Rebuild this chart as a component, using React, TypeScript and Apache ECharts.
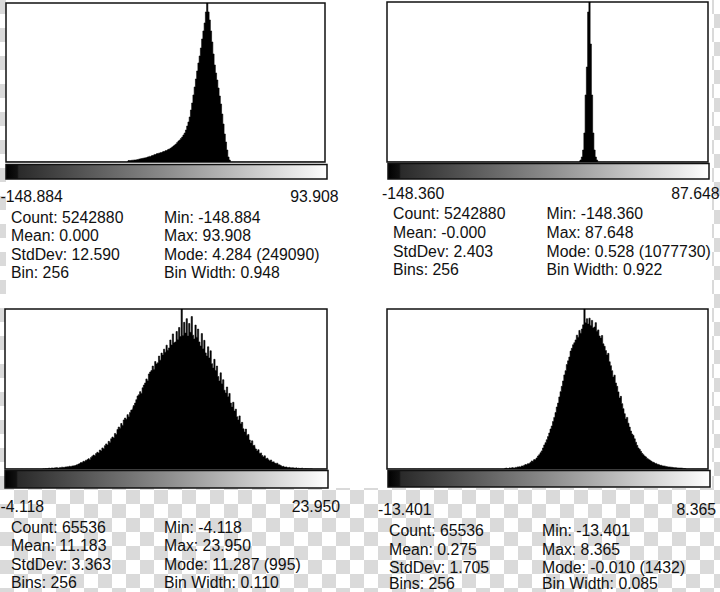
import React, { useEffect, useRef } from "react";
import * as echarts from "echarts";

const BIN_COUNT = 256;

// ---------- Panel 1 (top-left) ----------
const P1_MIN = -148.884;
const P1_BIN_WIDTH = 0.948;
const P1_MODE_COUNT = 249090;
const P1_FIRST_BIN = 98;
const P1_COUNTS = [
  2350, 2350, 2660, 2820, 3130, 3290, 3600, 4070, 4540, 5010,
  5480, 5800, 6270, 6580, 7050, 7680, 8150, 8770, 9400, 10190,
  10970, 11750, 12540, 13160, 13790, 14260, 14890, 15670, 16450, 17240,
  18020, 18800, 19900, 20840, 21940, 23500, 25070, 26640, 28210, 30560,
  32910, 34470, 36820, 39180, 42310, 45440, 50140, 56410, 62680, 70520,
  81480, 92450, 104990, 117530, 130060, 142600, 155130, 166100, 178640, 192740,
  205280, 217810, 235050, 249090, 235050, 222510, 205280, 188040, 169240, 152000,
  139460, 128490, 115960, 103420, 90890, 75220, 59550, 43880, 31340, 18800,
  7840, 3130,
];
const P1_RANGE_LABELS = ["-148.884", "93.908"];
const P1_STATS_LEFT = ["Count: 5242880", "Mean: 0.000", "StdDev: 12.590", "Bin: 256"];
const P1_STATS_RIGHT = ["Min: -148.884", "Max: 93.908", "Mode: 4.284 (249090)", "Bin Width: 0.948"];

// ---------- Panel 2 (top-right) ----------
const P2_MIN = -148.36;
const P2_BIN_WIDTH = 0.922;
const P2_MODE_COUNT = 1077730;
const P2_FIRST_BIN = 154;
const P2_COUNTS = [
  13470, 33680, 80830, 195350, 451310, 639920, 1010400, 1077730, 794850, 451310,
  195350, 80830, 33680, 13470,
];
const P2_RANGE_LABELS = ["-148.360", "87.648"];
const P2_STATS_LEFT = ["Count: 5242880", "Mean: -0.000", "StdDev: 2.403", "Bins: 256"];
const P2_STATS_RIGHT = ["Min: -148.360", "Max: 87.648", "Mode: 0.528 (1077730)", "Bin Width: 0.922"];

// ---------- Panel 3 (bottom-left) ----------
const P3_MIN = -4.118;
const P3_BIN_WIDTH = 0.11;
const P3_MODE_COUNT = 995;
const P3_FIRST_BIN = 30;
const P3_COUNTS = [
  2, 1, 3, 2, 4, 5, 3, 6, 4, 7, 7, 9, 6, 10, 8, 11, 9, 13, 12, 14,
  14, 17, 13, 19, 20, 22, 26, 24, 31, 35, 40, 37, 48, 44, 55, 59, 64, 57, 72, 80,
  87, 82, 96, 104, 99, 118, 112, 131, 126, 145, 156, 149, 172, 165, 188,
  199, 193, 221, 214, 246, 261, 254, 283, 270, 305, 317, 309, 338, 325, 352,
  367, 371, 395, 410, 431, 454, 462, 481, 470, 505, 522, 535, 560, 549, 591,
  603, 612, 640, 618, 668, 653, 660, 702, 676, 721, 709, 745, 726, 770, 738,
  753, 802, 771, 840, 785, 790, 855, 806, 880, 824, 995, 830, 912, 845, 935,
  827, 905, 850, 948, 832, 809, 895, 820, 870, 790, 765, 842, 748, 800, 722,
  703, 760, 690, 735, 655, 628, 682, 612, 640, 575, 547, 598, 530, 555, 490,
  473, 510, 450, 470, 410, 386, 415, 360, 372, 325, 305, 330, 282, 290, 250,
  230, 248, 210, 215, 180, 162, 175, 146, 150, 124, 112, 120, 98, 100, 84,
  75, 82, 66, 68, 57, 50, 56, 44, 45, 37, 33, 36, 27, 25, 20,
  15, 18, 12, 13, 10, 9, 11, 7, 8, 6, 6, 7, 4, 5, 3, 4, 5, 2, 3, 2,
  2, 1, 2, 1,
];
const P3_RANGE_LABELS = ["-4.118", "23.950"];
const P3_STATS_LEFT = ["Count: 65536", "Mean: 11.183", "StdDev: 3.363", "Bins: 256"];
const P3_STATS_RIGHT = ["Min: -4.118", "Max: 23.950", "Mode: 11.287 (995)", "Bin Width: 0.110"];

// ---------- Panel 4 (bottom-right) ----------
const P4_MIN = -13.401;
const P4_BIN_WIDTH = 0.085;
const P4_MODE_COUNT = 1432;
const P4_FIRST_BIN = 94;
const P4_COUNTS = [
  6, 9, 5, 11, 8, 12, 13, 10, 16, 14, 19, 22, 18, 27, 25, 33,
  40, 36, 48, 45, 58, 72, 66, 84, 80, 99, 116, 128, 145, 162, 188,
  215, 236, 262, 290, 322, 358, 385, 425, 462, 505, 555, 590, 645, 692, 740,
  788, 842, 880, 935, 968, 1002, 1055, 1080, 1112, 1130, 1155, 1198, 1180, 1240, 1215,
  1253, 1290, 1432, 1310, 1345, 1298, 1350, 1285, 1330, 1262, 1271, 1310, 1232, 1245, 1190,
  1172, 1195, 1120, 1098, 1060, 1020, 1035, 960, 925, 880, 823, 840, 770, 740, 690,
  635, 650, 585, 540, 495, 448, 462, 410, 375, 340, 313, 300, 270, 240, 212,
  188, 176, 158, 140, 128, 116, 108, 95, 88, 80, 72, 66, 60, 54, 50,
  45, 41, 36, 33, 30, 27, 25, 22, 21, 19, 18, 16, 15, 13, 12,
  12, 10, 9, 8, 8, 7, 5, 4, 3,
];
const P4_RANGE_LABELS = ["-13.401", "8.365"];
const P4_STATS_LEFT = ["Count: 65536", "Mean: 0.275", "StdDev: 1.705", "Bins: 256"];
const P4_STATS_RIGHT = ["Min: -13.401", "Max: 8.365", "Mode: -0.010 (1432)", "Bin Width: 0.085"];

// ---------- Assemble ----------
const PANELS = [
  { min: P1_MIN, bw: P1_BIN_WIDTH, mode: P1_MODE_COUNT, first: P1_FIRST_BIN, counts: P1_COUNTS, range: P1_RANGE_LABELS, left: P1_STATS_LEFT, right: P1_STATS_RIGHT },
  { min: P2_MIN, bw: P2_BIN_WIDTH, mode: P2_MODE_COUNT, first: P2_FIRST_BIN, counts: P2_COUNTS, range: P2_RANGE_LABELS, left: P2_STATS_LEFT, right: P2_STATS_RIGHT },
  { min: P3_MIN, bw: P3_BIN_WIDTH, mode: P3_MODE_COUNT, first: P3_FIRST_BIN, counts: P3_COUNTS, range: P3_RANGE_LABELS, left: P3_STATS_LEFT, right: P3_STATS_RIGHT },
  { min: P4_MIN, bw: P4_BIN_WIDTH, mode: P4_MODE_COUNT, first: P4_FIRST_BIN, counts: P4_COUNTS, range: P4_RANGE_LABELS, left: P4_STATS_LEFT, right: P4_STATS_RIGHT },
];

// layout (pixels): plot [x, y, w, h], colour bar [x, y, w, h], label positions
const LAYOUT = [
  { plot: [6, 3, 319, 159], bar: [6, 164.5, 321, 14.5], lo: [0.5, 196], hi: [338.5, 196], colL: 11, colR: 164, rows: [217, 235.5, 254, 272.5] },
  { plot: [387, 2, 321, 160], bar: [388, 163.5, 321, 15.5], lo: [382, 193], hi: [719.5, 193], colL: 393, colR: 546.5, rows: [213, 232, 251, 269.5] },
  { plot: [5, 309, 322, 160], bar: [5, 470.5, 323, 17.5], lo: [0.5, 506], hi: [340, 506], colL: 11, colR: 164, rows: [527, 545.5, 564, 582] },
  { plot: [387, 309, 321, 160], bar: [388, 470.5, 322, 16.5], lo: [378, 509], hi: [716, 509], colL: 389, colR: 542, rows: [530, 549, 567, 583] },
];

const FONT = '"Liberation Sans", Arial, Helvetica, sans-serif';
const TEXT_COLOR = "#111";
const FONT_SIZE = 15.8;
const CHECK = 14;

function fullCounts(first: number, counts: number[]) {
  const out: number[] = [];
  for (let i = 0; i < BIN_COUNT; i++) {
    out.push(i >= first && i < first + counts.length ? counts[i - first] : 0);
  }
  return out;
}

function binLabels(min: number, bw: number) {
  const out: string[] = [];
  for (let i = 0; i < BIN_COUNT; i++) out.push((min + i * bw).toFixed(3));
  return out;
}

function text(str: string, x: number, y: number, align: string) {
  return {
    type: "text",
    x,
    y,
    z: 10,
    silent: true,
    style: {
      text: str,
      fill: TEXT_COLOR,
      fontSize: FONT_SIZE,
      fontFamily: FONT,
      textAlign: align,
      textVerticalAlign: "middle",
      align,
      verticalAlign: "middle",
    },
  };
}

export default function App() {
  const ref = useRef<HTMLDivElement>(null);

  useEffect(() => {
    if (!ref.current) return;
    const chart = echarts.init(ref.current, null, { renderer: "svg" });

    const grids: any[] = [];
    const xAxes: any[] = [];
    const yAxes: any[] = [];
    const series: any[] = [];
    const graphics: any[] = [];

    // transparency checkerboard (watermark background)
    for (let r = 0; r * CHECK < 592; r++) {
      for (let c = 0; c * CHECK < 720; c++) {
        if ((r + c) % 2 === 0) {
          graphics.push({
            type: "rect",
            z: -30,
            silent: true,
            shape: { x: c * CHECK, y: r * CHECK, width: CHECK, height: CHECK },
            style: { fill: "#dadada" },
          });
        }
      }
    }
    graphics.push({ type: "rect", z: -29, silent: true, shape: { x: 6, y: 0, width: 706, height: 296 }, style: { fill: "#fff" } });
    graphics.push({ type: "rect", z: -29, silent: true, shape: { x: 5, y: 296, width: 707, height: 192 }, style: { fill: "#fff" } });

    PANELS.forEach((p, i) => {
      const L = LAYOUT[i];
      grids.push({
        left: L.plot[0],
        top: L.plot[1],
        width: L.plot[2],
        height: L.plot[3],
        show: true,
        backgroundColor: "#fff",
        borderColor: "#111",
        borderWidth: 1.5,
        containLabel: false,
      });
      xAxes.push({
        type: "category",
        gridIndex: i,
        data: binLabels(p.min, p.bw),
        boundaryGap: true,
        show: false,
      });
      yAxes.push({ type: "value", gridIndex: i, min: 0, max: p.mode, show: false });
      series.push({
        type: "line",
        xAxisIndex: i,
        yAxisIndex: i,
        data: fullCounts(p.first, p.counts),
        step: "middle",
        showSymbol: false,
        symbol: "none",
        silent: true,
        lineStyle: { color: "#000", width: 0.6 },
        areaStyle: { color: "#000", opacity: 1 },
        z: 3,
      });

      // colour bar
      graphics.push({
        type: "rect",
        z: 10,
        silent: true,
        shape: { x: L.bar[0], y: L.bar[1], width: L.bar[2], height: L.bar[3] },
        style: {
          fill: new echarts.graphic.LinearGradient(0, 0, 1, 0, [
            { offset: 0, color: "#000" },
            { offset: 0.035, color: "#111" },
            { offset: 0.04, color: "#2a2a2a" },
            { offset: 0.5, color: "#8c8c8c" },
            { offset: 0.95, color: "#f2f2f2" },
            { offset: 1, color: "#fff" },
          ]),
          stroke: "#111",
          lineWidth: 1.5,
        },
      });

      graphics.push(text(p.range[0], L.lo[0], L.lo[1], "left"));
      graphics.push(text(p.range[1], L.hi[0], L.hi[1], "right"));
      p.left.forEach((s, k) => graphics.push(text(s, L.colL, L.rows[k], "left")));
      p.right.forEach((s, k) => graphics.push(text(s, L.colR, L.rows[k], "left")));
    });

    chart.setOption({
      animation: false,
      backgroundColor: "#fff",
      grid: grids,
      xAxis: xAxes,
      yAxis: yAxes,
      series,
      graphic: { elements: graphics },
    });

    return () => chart.dispose();
  }, []);

  return (
    <div
      ref={ref}
      style={{ position: "fixed", left: 0, top: 0, width: 720, height: 592 }}
    />
  );
}
